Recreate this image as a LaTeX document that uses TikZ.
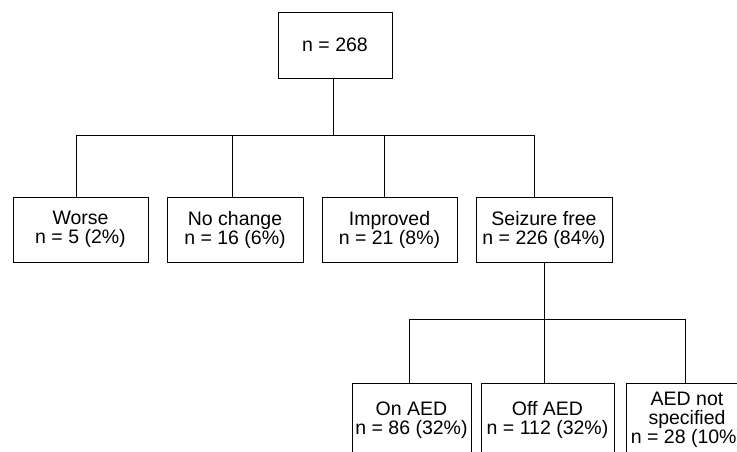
\documentclass[tikz,border=0pt]{standalone}
\usepackage{fontspec}
\setmainfont{Liberation Sans}
\begin{document}
\begin{tikzpicture}[x=1pt, y=-1pt,
    box/.style={draw, line width=0.9pt, align=center, inner sep=0pt,
      font=\fontsize{19.5}{19}\selectfont},
    link/.style={line width=0.8pt}]
    \useasboundingbox (0,0) rectangle (737,452);
    \clip (0,0) rectangle (737,452);

    % Whole group
    \node[box, minimum width=114pt, minimum height=66pt] (all) at (335,45) {n = 268};

    % Outcome at follow-up
    \node[box, minimum width=135pt, minimum height=65pt] (worse) at (80.5,229.5) {Worse\\n = 5 (2\%)};
    \node[box, minimum width=136pt, minimum height=65pt] (nochange) at (235,229.5) {No change\\n = 16 (6\%)};
    \node[box, minimum width=135pt, minimum height=65pt] (improved) at (389.5,229.5) {Improved\\n = 21 (8\%)};
    \node[box, minimum width=136pt, minimum height=65pt] (seizfree) at (544,229.5) {Seizure free\\n = 226 (84\%)};

    % Seizure free split by treatment
    \node[box, minimum width=119pt, minimum height=74pt] (onaed) at (411.5,420) {On AED\\n = 86 (32\%)};
    \node[box, minimum width=133pt, minimum height=74pt] (offaed) at (547.5,420) {Off AED\\n = 112 (32\%)};
    \node[box, minimum width=122pt, minimum height=74pt] (notspec) at (687,420) {AED not\\specified\\n = 28 (10\%)};

    % Connectors
    \coordinate (bus1) at (333,135);
    \coordinate (bus2) at (544,319);
    \draw[link] (all.south -| bus1) -- (bus1);
    \foreach \n/\dx in {worse/-4.5, nochange/-3, improved/-5.5, seizfree/-10}
        \draw[link] (bus1) -| ([xshift=\dx pt]\n.north);
    \draw[link] (seizfree.south) -- (bus2);
    \foreach \n/\dx in {onaed/-2.5, offaed/-3.5, notspec/-2}
        \draw[link] (bus2) -| ([xshift=\dx pt]\n.north);
\end{tikzpicture}
\end{document}
